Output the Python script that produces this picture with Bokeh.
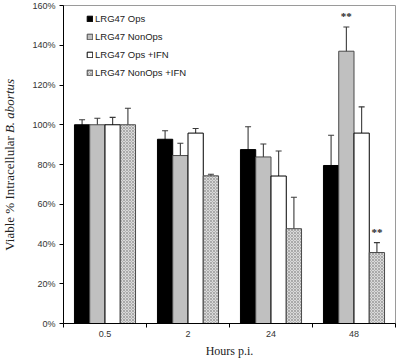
import numpy as np
from bokeh.plotting import figure
from bokeh.layouts import row
from bokeh.models import (ColumnDataSource, Range1d, FixedTicker, LinearAxis,
                          PrintfTickFormatter, Whisker, TeeHead, Legend)
from bokeh.embed import file_html
from bokeh.resources import INLINE
from bokeh.core.properties import value

# ---------------- data ----------------
categories = ["0.5", "2", "24", "48"]
series_names = ["LRG47 Ops", "LRG47 NonOps", "LRG47 Ops +IFN", "LRG47 NonOps +IFN"]
ops = [100, 92.7, 87.5, 79.5]
ops_err = [2.5, 4.3, 11.5, 15.2]
nonops = [100, 84.5, 83.8, 137.0]
nonops_err = [3.3, 6.2, 6.5, 12.2]
ops_ifn = [100, 95.8, 74.2, 95.8]
ops_ifn_err = [3.7, 2.3, 12.6, 13.2]
nonops_ifn = [100, 74.3, 47.7, 35.7]
nonops_ifn_err = [8.3, 0.8, 15.8, 5.0]
nonops_sig = ["", "", "", "**"]
nonops_ifn_sig = ["", "", "", "**"]
y_ticks = [0, 20, 40, 60, 80, 100, 120, 140, 160]
y_title_plain = "Viable % Intracellular"
y_title_italic = "B. abortus"

values = [ops, nonops, ops_ifn, nonops_ifn]
errors = [ops_err, nonops_err, ops_ifn_err, nonops_ifn_err]
sigs = [None, nonops_sig, None, nonops_ifn_sig]

# ---------------- styles ----------------
bar_w = 0.184
offsets = [-1.5 * bar_w, -0.5 * bar_w, 0.5 * bar_w, 1.5 * bar_w]
styles = [
    dict(fill_color="#000000", line_color="#000000"),
    dict(fill_color="#c0c0c0", line_color="#4a4a4a"),
    dict(fill_color="#ffffff", line_color="#000000"),
    dict(fill_color="#dadada", line_color="#4a4a4a", hatch_pattern="diagonal_cross",
         hatch_scale=3, hatch_color="#8a8a8a", hatch_weight=0.6),
]

TITLE_W = 17
y_range = Range1d(0, 160)

p = figure(width=397 - TITLE_W, height=360, output_backend="svg", toolbar_location=None,
           x_range=Range1d(0, len(categories)), y_range=y_range,
           x_axis_location=None, y_axis_location=None,
           min_border_left=63 - TITLE_W, min_border_right=2, min_border_top=5,
           min_border_bottom=36)
p.grid.visible = False
p.outline_line_color = "#9a9a9a"
p.outline_line_width = 1
p.background_fill_color = "white"
p.border_fill_color = "white"

base_x = np.arange(len(categories)) + 0.5
renderers = []
for i in range(4):
    xs = base_x + offsets[i]
    vals = np.array(values[i], dtype=float)
    errs = np.array(errors[i], dtype=float)
    src = ColumnDataSource(dict(x=xs, top=vals, upper=vals + errs, lower=vals - errs))
    r = p.vbar(x="x", top="top", width=bar_w, source=src, line_width=1, **styles[i])
    renderers.append(r)
    wh = Whisker(base="x", upper="upper", lower="lower", source=src, dimension="height",
                 line_color="#3a3a3a", line_width=1.1,
                 upper_head=TeeHead(size=6, line_color="#3a3a3a", line_width=1.1),
                 lower_head=TeeHead(size=6, line_color="#3a3a3a", line_width=1.1))
    p.add_layout(wh)
    if sigs[i] is not None:
        ssrc = ColumnDataSource(dict(x=xs, y=vals + errs + 2.5, t=sigs[i]))
        p.text(x="x", y="y", text="t", source=ssrc, text_align="center",
               text_baseline="bottom", text_font=value("Liberation Serif"),
               text_font_size="11px", text_font_style="bold", text_color="#2a2a2a")

legend = Legend(items=[(series_names[i], [renderers[i]]) for i in range(4)],
                location=(23, 245), orientation="vertical",
                glyph_width=7, glyph_height=7, label_height=10, spacing=7,
                label_standoff=2, padding=0, margin=0,
                border_line_color=None, background_fill_alpha=0,
                label_text_font="Liberation Sans", label_text_font_size="9.5px",
                label_text_color="#222222")
p.add_layout(legend)

# y axis
yaxis = LinearAxis(ticker=FixedTicker(ticks=y_ticks, minor_ticks=[]),
                   formatter=PrintfTickFormatter(format="%d%%"),
                   axis_line_color="#000000", major_tick_line_color="#000000",
                   major_tick_out=4, major_tick_in=0, major_label_standoff=4,
                   major_label_text_font="Liberation Sans",
                   major_label_text_font_size="9px", major_label_text_color="#333333")
p.add_layout(yaxis, "left")

# x axis
xaxis = LinearAxis(ticker=FixedTicker(ticks=list(base_x),
                                      minor_ticks=list(range(len(categories) + 1))),
                   major_label_overrides={float(base_x[i]): categories[i] for i in range(len(categories))},
                   axis_line_color="#000000", major_tick_line_color=None,
                   major_tick_out=0, major_tick_in=0,
                   minor_tick_line_color="#000000", minor_tick_out=4, minor_tick_in=0,
                   major_label_standoff=3,
                   major_label_text_font="Liberation Sans",
                   major_label_text_font_size="9px", major_label_text_color="#333333",
                   axis_label="Hours p.i.", axis_label_standoff=4,
                   axis_label_text_font="Liberation Serif",
                   axis_label_text_font_size="12px", axis_label_text_font_style="normal",
                   axis_label_text_color="#222222")
p.add_layout(xaxis, "below")

# ---------- y axis title strip (mixed upright / italic text) ----------
t = figure(width=TITLE_W, height=360, output_backend="svg", toolbar_location=None,
           x_range=Range1d(0, 1), y_range=y_range,
           x_axis_location=None, y_axis_location=None,
           min_border_left=0, min_border_right=0, min_border_top=5,
           min_border_bottom=36)
t.grid.visible = False
t.outline_line_color = None
t.background_fill_color = "white"
t.border_fill_color = "white"
t.text(x=[0.5], y=[94.3], text=[y_title_plain], angle=np.pi / 2,
       text_align="right", text_baseline="middle",
       text_font=value("Liberation Serif"), text_font_size="13px",
       text_color="#222222")
t.text(x=[0.5], y=[95.8], text=[y_title_italic], angle=np.pi / 2,
       text_align="left", text_baseline="middle",
       text_font=value("Liberation Serif"), text_font_size="13px",
       text_font_style="italic", text_color="#222222")

layout = row(t, p)
open("out.html", "w").write(file_html(layout, INLINE))
